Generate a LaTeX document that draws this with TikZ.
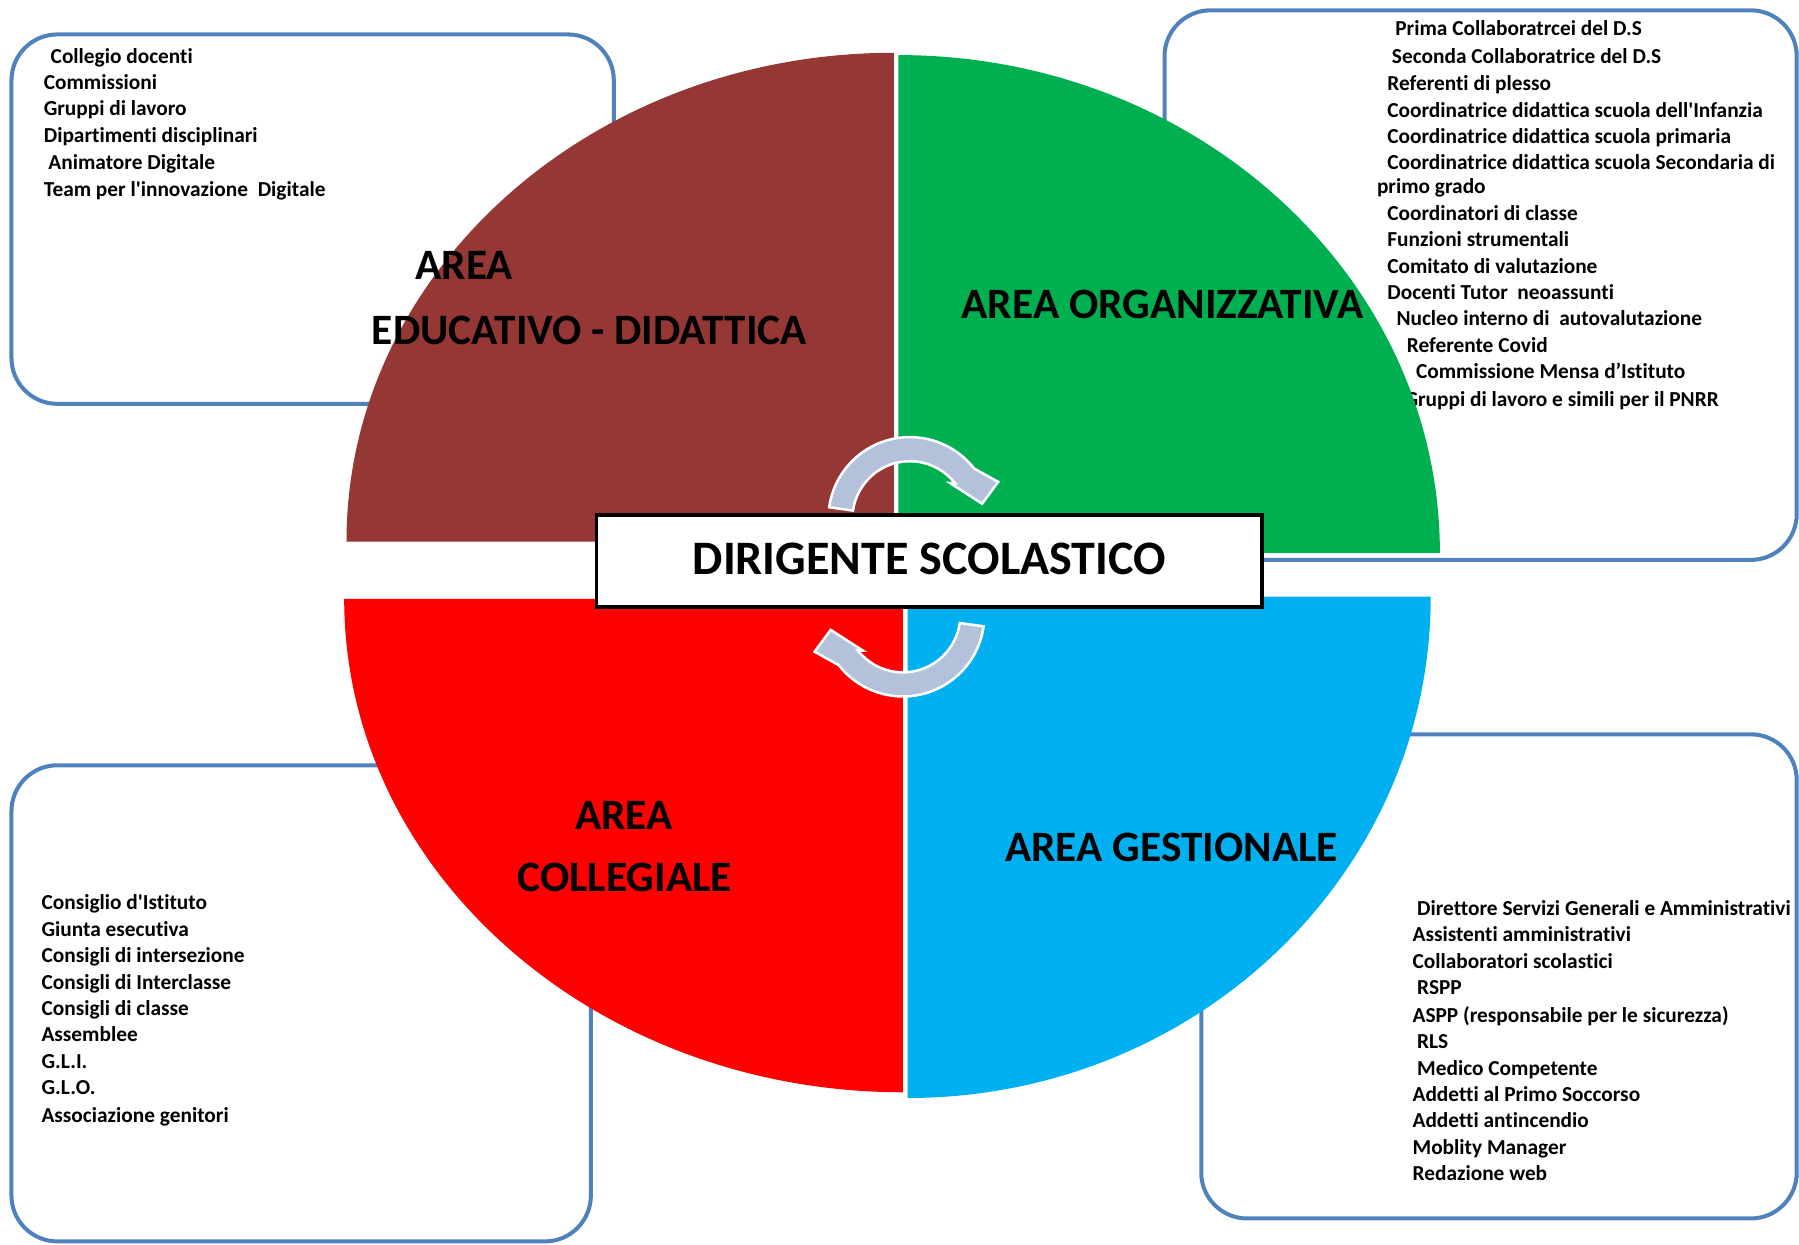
\documentclass[tikz,border=0pt]{standalone}
\usepackage{fontspec}
\setmainfont{Carlito}[Ligatures={TeXOff,NoCommon}]
\definecolor{brownq}{RGB}{149,55,53}
\definecolor{greenq}{RGB}{0,176,80}
\definecolor{redq}{RGB}{255,0,0}
\definecolor{blueq}{RGB}{0,176,240}
\definecolor{boxblue}{RGB}{79,129,189}
\definecolor{arrowfill}{RGB}{180,193,219}
\begin{document}
\begin{tikzpicture}[x=1pt,y=1pt,
  listbox/.style={draw=boxblue, line width=3.5pt, rounded corners=40pt},
  item/.style={anchor=base west, inner sep=0pt, font=\fontsize{18.6}{21}\selectfont\bfseries},
  arealabel/.style={anchor=base west, inner sep=0pt, font=\fontsize{37.8}{42}\selectfont\bfseries},
  circarrow/.style={fill=arrowfill, draw=white, line width=2.2pt, line join=miter}]
\useasboundingbox (0,0) rectangle (1568,-1085);
\fill[white] (0,0) rectangle (1568,-1085);
% list boxes
\draw[listbox] (10,-30) rectangle (535,-352);
\draw[listbox] (1015,-9) rectangle (1566,-488);
\draw[listbox] (10,-667) rectangle (515,-1082);
\draw[listbox] (1047,-640) rectangle (1566,-1062);
% lists
\foreach \x/\y/\t [count=\i] in {
  44/49/{Collegio docenti},
  38/72/{Commissioni},
  38/95/{Gruppi di lavoro},
  38/118/{Dipartimenti disciplinari},
  42/142/{Animatore Digitale},
  38/165/{Team per l'innovazione\ \ Digitale}}
  \node[item, name=tl\i] at (\x,-\y-6) {\t};
\foreach \x/\y/\t [count=\i] in {
  1216/25/{Prima Collaboratrcei del D.S},
  1213/49/{Seconda Collaboratrice del D.S},
  1209/73/{Referenti di plesso},
  1209/96/{Coordinatrice didattica scuola dell'Infanzia},
  1209/119/{Coordinatrice didattica scuola primaria},
  1209/142/{Coordinatrice didattica scuola Secondaria di},
  1200/163/{primo grado},
  1209/186/{Coordinatori di classe},
  1209/209/{Funzioni strumentali},
  1209/232/{Comitato di valutazione},
  1209/255/{Docenti Tutor\ \ neoassunti},
  1217/278/{Nucleo interno di\ \ autovalutazione},
  1226/301/{Referente Covid},
  1234/324/{Commissione Mensa d’Istituto},
  1224/348/{Gruppi di lavoro e simili per il PNRR}}
  \node[item, name=tr\i] at (\x,-\y-6) {\t};
\foreach \x/\y/\t [count=\i] in {
  36/787/{Consiglio d'Istituto},
  36/810/{Giunta esecutiva},
  36/833/{Consigli di intersezione},
  36/856/{Consigli di Interclasse},
  36/879/{Consigli di classe},
  36/902/{Assemblee},
  36/925/{G.L.I.},
  36/948/{G.L.O.},
  36/972/{Associazione genitori}}
  \node[item, name=bl\i] at (\x,-\y-6) {\t};
\foreach \x/\y/\t [count=\i] in {
  1235/792/{Direttore Servizi Generali e Amministrativi},
  1231/815/{Assistenti amministrativi},
  1231/838/{Collaboratori scolastici},
  1235/861/{RSPP},
  1231/885/{ASPP (responsabile per le sicurezza)},
  1235/908/{RLS},
  1235/931/{Medico Competente},
  1231/954/{Addetti al Primo Soccorso},
  1231/977/{Addetti antincendio},
  1231/1000/{Moblity Manager},
  1231/1023/{Redazione web}}
  \node[item, name=br\i] at (\x,-\y-6) {\t};
% pie quadrants
\fill[brownq] (779,-472) -- (302,-472) arc[start angle=180, end angle=90, x radius=477, y radius=426] -- cycle;
\fill[greenq] (783,-482) -- (783,-48) arc[start angle=90, end angle=0, x radius=472, y radius=434] -- cycle;
\fill[redq] (787,-522) -- (300,-522) arc[start angle=180, end angle=270, x radius=487, y radius=430] -- cycle;
\fill[blueq] (791,-520) -- (1247,-520) arc[start angle=0, end angle=-90, x radius=456, y radius=437] -- cycle;
% area labels
\node[arealabel, name=a1] at (362,-244) {AREA};
\node[arealabel, name=a2] at (324,-300) {EDUCATIVO - DIDATTICA};
\node[arealabel, name=a3] at (838,-278) {AREA ORGANIZZATIVA};
\node[arealabel, name=a4] at (501,-723) {AREA};
\node[arealabel, name=a5] at (451,-777) {COLLEGIALE};
\node[arealabel, name=a6] at (876,-751) {AREA GESTIONALE};
% circular arrows
\path[circarrow] (722.7,-442.1) arc[start angle=172, end angle=38, radius=71]
  -- (870,-420) -- (856,-439) -- (828,-421) -- (832.4,-421.2)
  arc[start angle=38, end angle=172, radius=50] -- cycle;
\begin{scope}[rotate around={180:(790,-494)}]
\path[circarrow] (722.7,-442.1) arc[start angle=172, end angle=38, radius=71]
  -- (870,-420) -- (856,-439) -- (828,-421) -- (832.4,-421.2)
  arc[start angle=38, end angle=172, radius=50] -- cycle;
\end{scope}
% central box
\node[draw=black, fill=white, line width=3pt, minimum width=580pt, minimum height=80pt,
  inner sep=0pt, font=\fontsize{41.9}{46}\selectfont\bfseries, name=ds] at (810,-489)
  {\raisebox{4pt}{DIRIGENTE SCOLASTICO}};
\end{tikzpicture}
\end{document}
